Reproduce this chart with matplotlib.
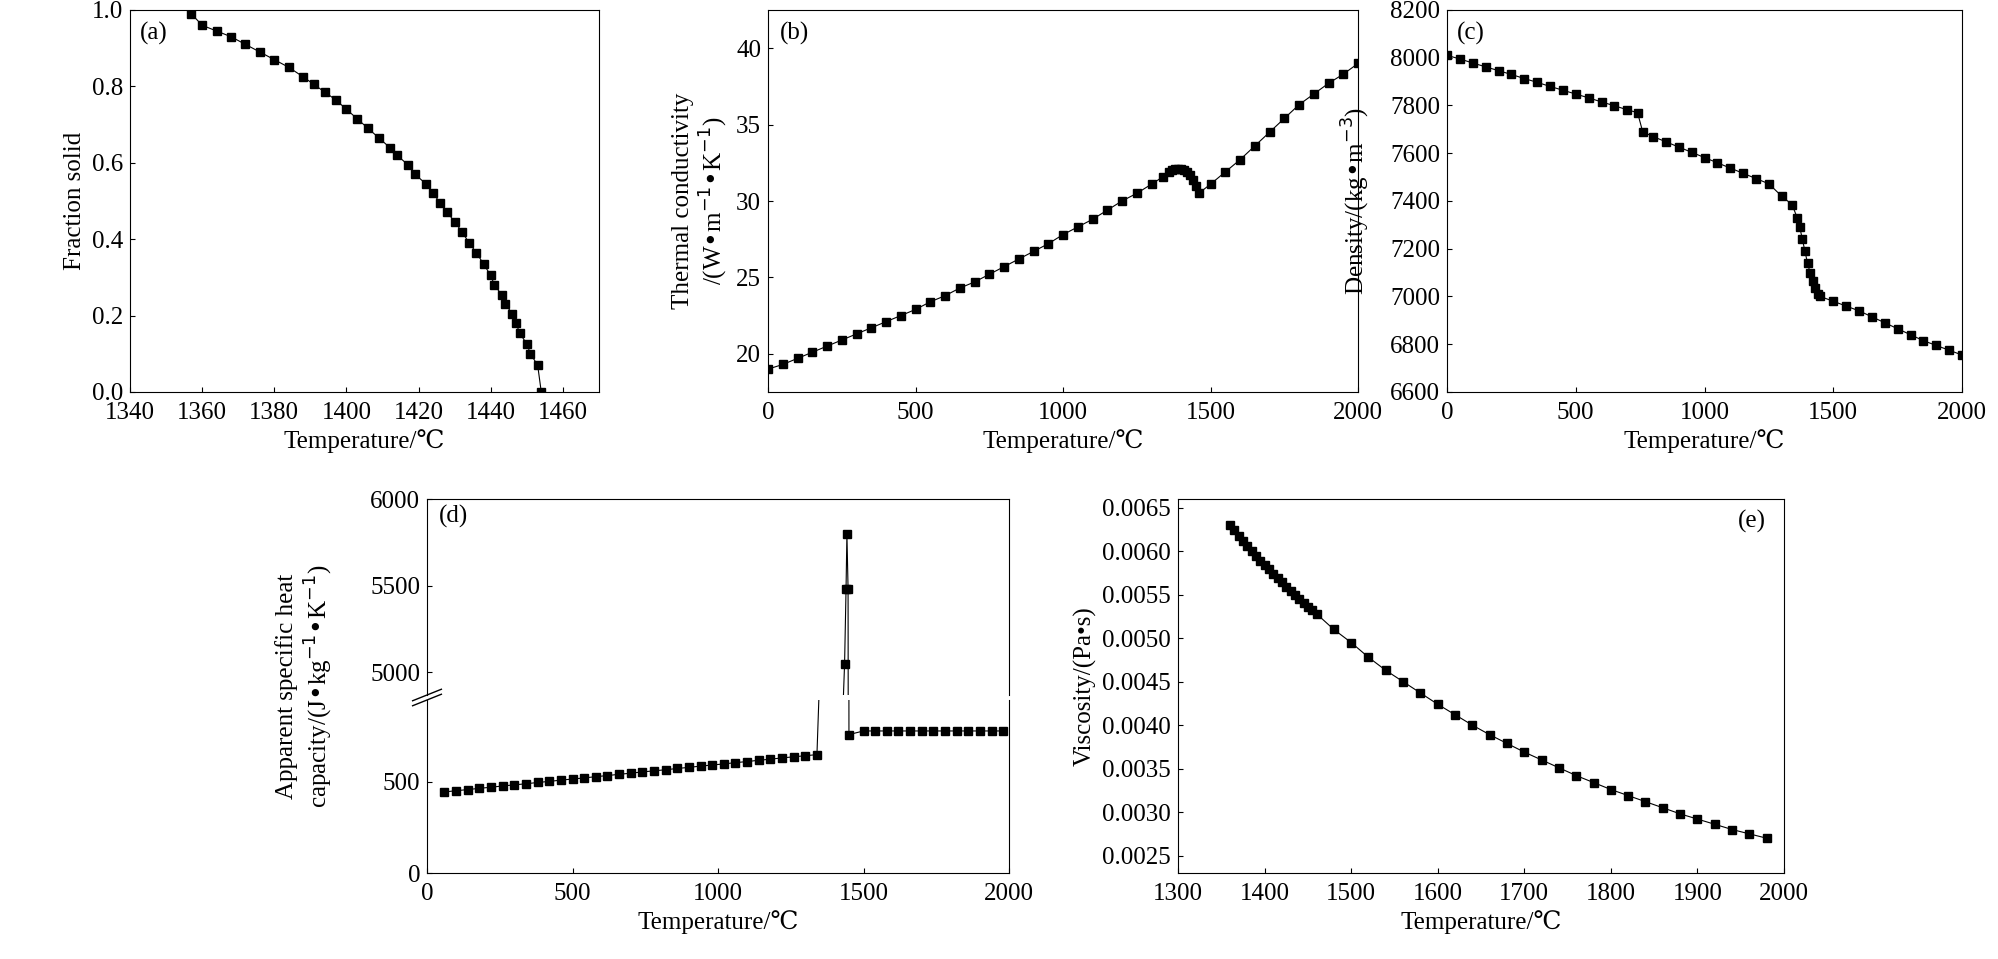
import matplotlib
matplotlib.use("Agg")
import matplotlib.pyplot as plt
import numpy as np

plt.rcParams['font.family'] = ['Liberation Serif', 'DejaVu Serif']
plt.rcParams['font.size'] = 18
plt.rcParams['xtick.direction'] = 'in'
plt.rcParams['ytick.direction'] = 'in'
plt.rcParams['xtick.major.pad'] = 7
plt.rcParams['ytick.major.pad'] = 5

# ── (a) fraction solid ──
fs_temp = [1357, 1360, 1364, 1368, 1372, 1376, 1380, 1384, 1388, 1391, 1394, 1397, 1400,
           1403, 1406, 1409, 1412, 1414, 1417, 1419, 1422, 1424, 1426, 1428, 1430, 1432,
           1434, 1436, 1438, 1440, 1441, 1443, 1444, 1446, 1447, 1448, 1450, 1451, 1453, 1454]
fs_val = [0.99, 0.96, 0.945, 0.93, 0.91, 0.89, 0.87, 0.85, 0.825, 0.805, 0.785, 0.765, 0.74,
          0.715, 0.69, 0.665, 0.64, 0.62, 0.595, 0.57, 0.545, 0.52, 0.495, 0.47, 0.445, 0.42,
          0.39, 0.365, 0.335, 0.305, 0.28, 0.255, 0.23, 0.205, 0.18, 0.155, 0.125, 0.10, 0.07, 0.0]

# ── (b) thermal conductivity ──
k_temp = [0, 50, 100, 150, 200, 250, 300, 350, 400, 450, 500, 550, 600, 650, 700, 750, 800,
          850, 900, 950, 1000, 1050, 1100, 1150, 1200, 1250, 1300, 1340,
          1360, 1370, 1380, 1390, 1400, 1410, 1420, 1430, 1440, 1450, 1460,
          1500, 1550, 1600, 1650, 1700, 1750, 1800, 1850, 1900, 1950, 2000]
k_val = [19.0, 19.3, 19.7, 20.1, 20.5, 20.9, 21.3, 21.7, 22.1, 22.5, 22.9, 23.4, 23.8, 24.3,
         24.7, 25.2, 25.7, 26.2, 26.7, 27.2, 27.8, 28.3, 28.8, 29.4, 30.0, 30.5, 31.1, 31.6,
         31.9, 32.0, 32.1, 32.1, 32.1, 32.0, 31.9, 31.7, 31.4, 31.0, 30.5,
         31.1, 31.9, 32.7, 33.6, 34.5, 35.4, 36.3, 37.0, 37.7, 38.3, 39.0]

# ── (c) density ──
rho_temp = [0, 50, 100, 150, 200, 250, 300, 350, 400, 450, 500, 550, 600, 650, 700, 740,
            760, 800, 850, 900, 950, 1000, 1050, 1100, 1150, 1200, 1250, 1300, 1340,
            1360, 1370, 1380, 1390, 1400, 1410, 1420, 1430, 1440, 1450,
            1500, 1550, 1600, 1650, 1700, 1750, 1800, 1850, 1900, 1950, 2000]
rho_val = [8010, 7995, 7978, 7962, 7946, 7930, 7913, 7897, 7880, 7864, 7848, 7832, 7815,
           7799, 7782, 7770, 7690, 7670, 7648, 7626, 7604, 7582, 7560, 7538, 7516, 7494,
           7472, 7420, 7385, 7330, 7290, 7240, 7190, 7140, 7100, 7065, 7035, 7012, 7000,
           6980, 6960, 6940, 6915, 6890, 6865, 6840, 6815, 6795, 6775, 6755]

# ── (d) apparent specific heat ──
cp_temp = [60, 100, 140, 180, 220, 260, 300, 340, 380, 420, 460, 500, 540, 580, 620, 660,
           700, 740, 780, 820, 860, 900, 940, 980, 1020, 1060, 1100, 1140, 1180, 1220,
           1260, 1300, 1340, 1435, 1440, 1443, 1447, 1450,
           1500, 1540, 1580, 1620, 1660, 1700, 1740, 1780, 1820, 1860, 1900, 1940, 1980]
cp_val = [445, 452, 458, 465, 471, 478, 484, 490, 497, 503, 510, 516, 522, 529, 535, 542,
          548, 555, 561, 567, 574, 580, 587, 593, 599, 606, 612, 619, 625, 632,
          638, 644, 650, 5050, 5480, 5800, 5480, 760,
          780, 780, 780, 780, 780, 780, 780, 780, 780, 780, 780, 780, 780]

# ── (e) viscosity ──
mu_temp = [1360, 1365, 1370, 1375, 1380, 1385, 1390, 1395, 1400, 1405, 1410, 1415, 1420,
           1425, 1430, 1435, 1440, 1445, 1450, 1455, 1460,
           1480, 1500, 1520, 1540, 1560, 1580, 1600, 1620, 1640, 1660, 1680, 1700, 1720,
           1740, 1760, 1780, 1800, 1820, 1840, 1860, 1880, 1900, 1920, 1940, 1960, 1980]
mu_val = [0.00630, 0.00624, 0.00618, 0.00612, 0.00606, 0.00600, 0.00595, 0.00589, 0.00584,
          0.00579, 0.00574, 0.00569, 0.00564, 0.00559, 0.00554, 0.00550, 0.00545, 0.00541,
          0.00536, 0.00532, 0.00528,
          0.00510, 0.00495, 0.00478, 0.00463, 0.00450, 0.00437, 0.00424, 0.00412, 0.00400,
          0.00389, 0.00379, 0.00369, 0.00360, 0.00351, 0.00342, 0.00334, 0.00326, 0.00319,
          0.00312, 0.00305, 0.00298, 0.00292, 0.00286, 0.00280, 0.00275, 0.00270]

W, H = 1998, 959
fig = plt.figure(figsize=(W / 100, H / 100), dpi=100)


def box(l, r, t, b):
    return [l / W, 1 - b / H, (r - l) / W, (b - t) / H]


style = dict(color='black', marker='s', markersize=6, linewidth=0.8)
xlab = 'Temperature/\u2103'


def tag(ax, s):
    ax.text(0.02, 0.97, s, transform=ax.transAxes, va='top', ha='left')


ax = fig.add_axes(box(130, 599, 10, 392))
ax.plot(fs_temp, fs_val, **style)
ax.set_xlim(1340, 1470); ax.set_ylim(0, 1.0)
ax.set_xticks(range(1340, 1461, 20)); ax.set_yticks(np.arange(0, 1.01, 0.2))
ax.set_yticklabels(['0.0', '0.2', '0.4', '0.6', '0.8', '1.0'])
ax.set_xlabel(xlab); ax.set_ylabel('Fraction solid')
tag(ax, '(a)')

ax = fig.add_axes(box(768, 1358, 10, 392))
ax.plot(k_temp, k_val, **style)
ax.set_xlim(0, 2000); ax.set_ylim(17.5, 42.5)
ax.set_yticks([20, 25, 30, 35, 40])
ax.set_xlabel(xlab)
ax.set_ylabel('Thermal conductivity\n/(W\u2022m$^{-1}$\u2022K$^{-1}$)')
tag(ax, '(b)')

ax = fig.add_axes(box(1447, 1962, 10, 392))
ax.plot(rho_temp, rho_val, **style)
ax.set_xlim(0, 2000); ax.set_ylim(6600, 8200)
ax.set_yticks(range(6600, 8201, 200))
ax.set_xlabel(xlab); ax.set_ylabel('Density/(kg\u2022m$^{-3}$)', labelpad=2)
ax.yaxis.set_label_coords(-0.145, 0.5)
tag(ax, '(c)')

# (d) broken axis
low = fig.add_axes(box(427, 1009, 700, 873))
up = fig.add_axes(box(427, 1009, 499, 695))
for a in (low, up):
    a.plot(cp_temp, cp_val, **style)
    a.set_xlim(0, 2000)
low.set_ylim(0, 950); low.set_yticks([0, 500])
up.set_ylim(4870, 6000); up.set_yticks([5000, 5500, 6000])
low.spines['top'].set_visible(False)
up.spines['bottom'].set_visible(False)
up.tick_params(axis='x', bottom=False, labelbottom=False)
low.set_xlabel(xlab)
fig.text(305 / W, 1 - 686 / H, 'Apparent specific heat\ncapacity/(J\u2022kg$^{-1}$\u2022K$^{-1}$)',
         rotation=90, ha='center', va='center', multialignment='center')
d = 0.012
kw = dict(transform=fig.transFigure, color='black', clip_on=False, linewidth=1)
for yy in (1 - 695 / H, 1 - 700 / H):
    xx = 427 / W
    fig.add_artist(plt.Line2D([xx - d * 0.6, xx + d * 0.6], [yy - d * 0.5, yy + d * 0.5], **kw))
tag(up, '(d)')

ax = fig.add_axes(box(1178, 1784, 499, 873))
ax.plot(mu_temp, mu_val, **style)
ax.set_xlim(1300, 2000); ax.set_ylim(0.0023, 0.0066)
ax.set_yticks(np.arange(0.0025, 0.00651, 0.0005))
ax.set_yticklabels([f'{v:.4f}' for v in np.arange(0.0025, 0.00651, 0.0005)])
ax.set_xlabel(xlab); ax.set_ylabel('Viscosity/(Pa\u2022s)')
ax.text(0.97, 0.97, '(e)', transform=ax.transAxes, va='top', ha='right')

fig.savefig('out.png', dpi=100)
